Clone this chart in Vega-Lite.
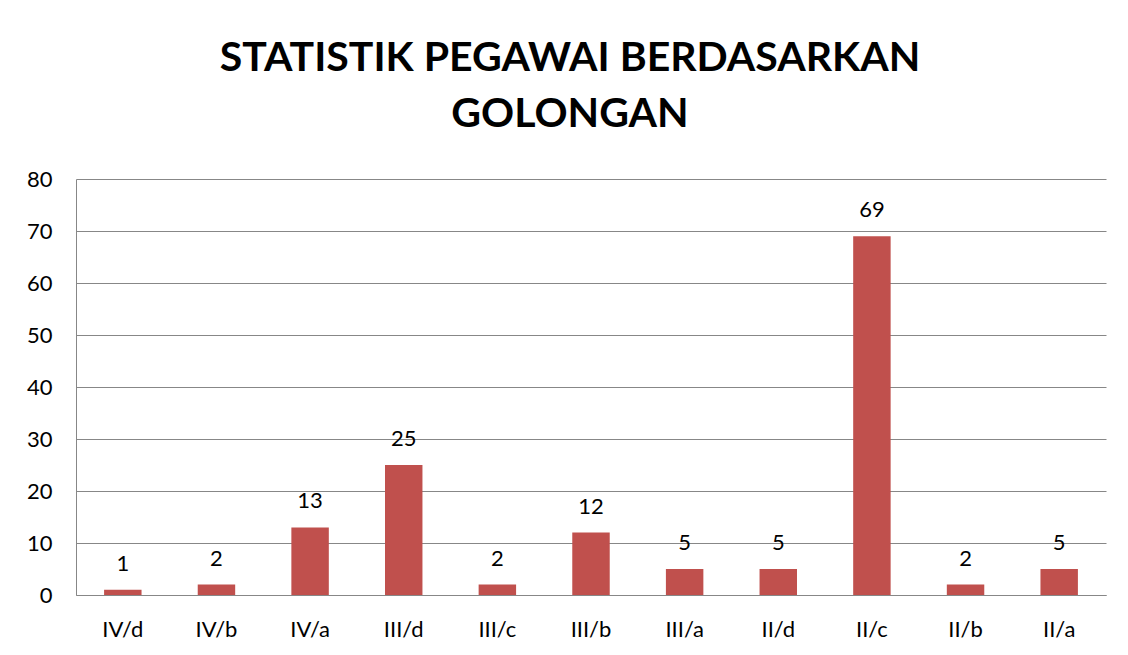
{
  "$schema": "https://vega.github.io/schema/vega-lite/v6.json",
  "width": 1030,
  "height": 416,
  "autosize": {"type": "none"},
  "padding": {"left": 76, "top": 179, "right": 22, "bottom": 60},
  "background": "white",
  "title": {
    "text": ["STATISTIK PEGAWAI BERDASARKAN", "GOLONGAN"],
    "font": "Lato",
    "fontSize": 41,
    "fontWeight": "bold",
    "color": "black",
    "anchor": "middle",
    "dx": -21,
    "lineHeight": 56,
    "offset": 32
  },
  "data": {
    "values": [
      {"golongan": "IV/d", "jumlah": 1},
      {"golongan": "IV/b", "jumlah": 2},
      {"golongan": "IV/a", "jumlah": 13},
      {"golongan": "III/d", "jumlah": 25},
      {"golongan": "III/c", "jumlah": 2},
      {"golongan": "III/b", "jumlah": 12},
      {"golongan": "III/a", "jumlah": 5},
      {"golongan": "II/d", "jumlah": 5},
      {"golongan": "II/c", "jumlah": 69},
      {"golongan": "II/b", "jumlah": 2},
      {"golongan": "II/a", "jumlah": 5}
    ]
  },
  "encoding": {
    "x": {
      "field": "golongan",
      "type": "nominal",
      "sort": null,
      "scale": {"paddingInner": 0.6, "paddingOuter": 0.3},
      "axis": {
        "title": null,
        "labelAngle": 0,
        "labelFont": "Lato",
        "labelFontSize": 22,
        "labelColor": "black",
        "labelPadding": 24,
        "ticks": false,
        "domain": true,
        "domainColor": "#878787",
        "domainWidth": 1
      }
    },
    "y": {
      "field": "jumlah",
      "type": "quantitative",
      "scale": {"domain": [0, 80]},
      "axis": {
        "title": null,
        "values": [0, 10, 20, 30, 40, 50, 60, 70, 80],
        "labelFont": "Lato",
        "labelFontSize": 22,
        "labelColor": "black",
        "labelPadding": 24,
        "ticks": false,
        "domain": true,
        "domainColor": "#878787",
        "gridColor": "#878787",
        "gridWidth": 1
      }
    }
  },
  "layer": [
    {"mark": {"type": "bar", "color": "#C0504D"}},
    {
      "mark": {"type": "text", "baseline": "bottom", "dy": -14, "font": "Lato", "fontSize": 22, "color": "black"},
      "encoding": {"text": {"field": "jumlah", "type": "quantitative"}}
    }
  ],
  "config": {"view": {"stroke": null}}
}
